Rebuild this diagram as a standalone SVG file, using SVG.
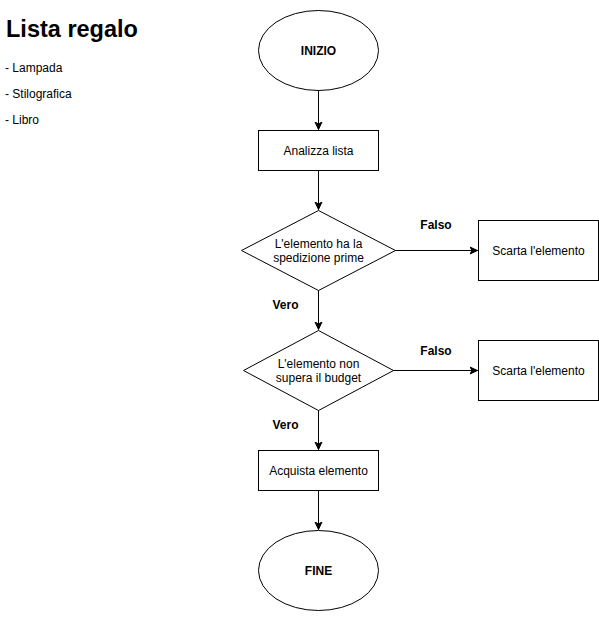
<svg xmlns="http://www.w3.org/2000/svg" width="599" height="619" viewBox="0 0 599 619">
<style>
.shape{fill:#ffffff;stroke:#000000;stroke-width:1}
.edge{fill:none;stroke:#000000;stroke-width:1}
.t{font-family:"Liberation Sans",Arial,Helvetica,sans-serif;font-size:12px;fill:#000000;text-anchor:middle}
.b{font-weight:bold}
.l{font-family:"Liberation Sans",Arial,Helvetica,sans-serif;font-size:12px;fill:#000000}
</style>
<defs>
<marker id="arr" markerUnits="userSpaceOnUse" markerWidth="10" markerHeight="10" viewBox="0 0 10 10" refX="8" refY="5" orient="auto">
<path d="M0.5,1.5 L8,5 L0.5,8.5 L2.5,5 Z" fill="#000000" stroke="#000000" stroke-width="1"/>
</marker>
</defs>
<rect width="599" height="619" fill="#ffffff"/>
<g id="legend">
<text x="6" y="37" font-family="'Liberation Sans',Arial,Helvetica,sans-serif" font-size="23.5" font-weight="bold" fill="#000000">Lista regalo</text>
<text class="l" x="5" y="72">- Lampada</text>
<text class="l" x="5" y="98">- Stilografica</text>
<text class="l" x="5" y="124">- Libro</text>
</g>
<g id="connectors">
<path class="edge" d="M318.5,90 L318.5,129.5" marker-end="url(#arr)"/>
<path class="edge" d="M318.5,170 L318.5,209.5" marker-end="url(#arr)"/>
<path class="edge" d="M395,250.5 L477.5,250.5" marker-end="url(#arr)"/>
<path class="edge" d="M318.5,290 L318.5,329.5" marker-end="url(#arr)"/>
<path class="edge" d="M393,370.5 L477.5,370.5" marker-end="url(#arr)"/>
<path class="edge" d="M318.5,410 L318.5,449.5" marker-end="url(#arr)"/>
<path class="edge" d="M318.5,490 L318.5,529.5" marker-end="url(#arr)"/>
<text class="t b" x="436" y="229">Falso</text>
<text class="t b" x="285.5" y="309">Vero</text>
<text class="t b" x="436" y="355">Falso</text>
<text class="t b" x="285.5" y="429">Vero</text>
</g>
<g id="inizio">
<ellipse class="shape" cx="318.5" cy="50.5" rx="60" ry="40"/>
<text class="t b" x="318.5" y="54.5">INIZIO</text>
</g>
<g id="analizza">
<rect class="shape" x="258.5" y="130.5" width="120" height="40"/>
<text class="t" x="318.5" y="154.5">Analizza lista</text>
</g>
<g id="decisione1">
<polygon class="shape" points="318.5,210.5 395.5,250.5 318.5,290.5 241.5,250.5"/>
<text class="t" x="318.5" y="247.5">L'elemento ha la</text>
<text class="t" x="318.5" y="261.5">spedizione prime</text>
</g>
<g id="scarta1">
<rect class="shape" x="478.5" y="220.5" width="120" height="60"/>
<text class="t" x="538.5" y="254.5">Scarta l'elemento</text>
</g>
<g id="decisione2">
<polygon class="shape" points="318.5,330.5 393.5,370.5 318.5,410.5 243.5,370.5"/>
<text class="t" x="318.5" y="367.5">L'elemento non</text>
<text class="t" x="318.5" y="381.5">supera il budget</text>
</g>
<g id="scarta2">
<rect class="shape" x="478.5" y="340.5" width="120" height="60"/>
<text class="t" x="538.5" y="374.5">Scarta l'elemento</text>
</g>
<g id="acquista">
<rect class="shape" x="258.5" y="450.5" width="120" height="40"/>
<text class="t" x="318.5" y="474.5">Acquista elemento</text>
</g>
<g id="fine">
<ellipse class="shape" cx="318.5" cy="570.5" rx="60" ry="40"/>
<text class="t b" x="318.5" y="574.5">FINE</text>
</g>
</svg>
